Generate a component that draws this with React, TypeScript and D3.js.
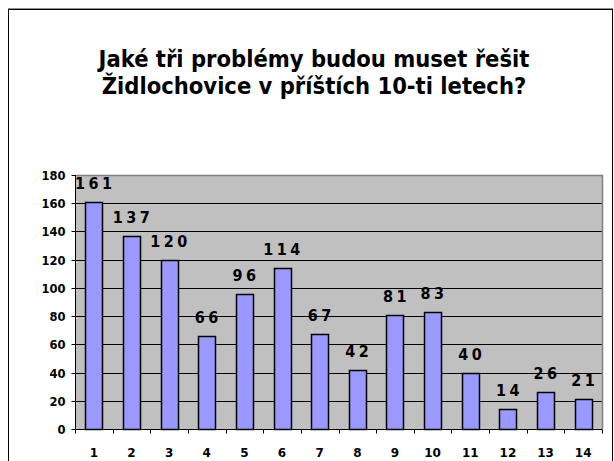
import { useEffect, useRef } from "react";
import * as d3 from "d3";

const W = 614, H = 461;
const M = { top: 175, right: 12, bottom: 32, left: 75 };
const X1 = W - M.right; // 602
const Y0 = H - M.bottom; // 429

const TITLE = ["Jaké tři problémy budou muset řešit", "Židlochovice v příštích 10-ti letech?"];
const CATEGORIES = ["1", "2", "3", "4", "5", "6", "7", "8", "9", "10", "11", "12", "13", "14"];
const VALUES = [161, 137, 120, 66, 96, 114, 67, 42, 81, 83, 40, 14, 26, 21];
const Y_TICKS = [0, 20, 40, 60, 80, 100, 120, 140, 160, 180];

const C = { plotBg: "#c0c0c0", bar: "#9999ff", grid: "#000", border: "#808080" };
const FONT = "'DejaVu Sans', Verdana, sans-serif";

export default function App() {
  const ref = useRef<SVGSVGElement>(null);

  useEffect(() => {
    const svg = d3.select(ref.current);
    svg.selectAll("*").remove();

    // outer frame
    svg.append("rect").attr("x", 8.5).attr("y", 8.5).attr("width", 604).attr("height", 470)
      .attr("fill", "none").attr("stroke", "#909090");
    svg.append("rect").attr("x", 8.5).attr("y", 9.5).attr("width", 604).attr("height", 470)
      .attr("fill", "#fff").attr("stroke", "#000");

    // title
    const t = svg.append("text").attr("text-anchor", "middle")
      .attr("font-family", FONT).attr("font-weight", "bold")
      .style("font-stretch", "condensed").style("font-size", "23.5px").attr("fill", "#000");
    TITLE.forEach((line, i) => {
      t.append("tspan").attr("x", 314).attr("y", 67 + i * 27).text(line);
    });

    const x = d3.scaleBand<string>().domain(CATEGORIES).range([M.left, X1])
      .paddingInner(0.55).paddingOuter(0.275);
    const y = d3.scaleLinear().domain([0, 180]).range([Y0, M.top]);
    const px = (v: number) => Math.round(v) + 0.5;

    // plot area
    svg.append("rect").attr("x", M.left).attr("y", M.top).attr("width", X1 - M.left).attr("height", Y0 - M.top)
      .attr("fill", C.plotBg);

    // gridlines
    svg.append("g").selectAll("line").data(Y_TICKS.filter(d => d > 0 && d < 180)).join("line")
      .attr("x1", M.left).attr("x2", X1)
      .attr("y1", d => px(y(d))).attr("y2", d => px(y(d)))
      .attr("stroke", C.grid).attr("stroke-width", 1);

    // plot border top/right
    svg.append("path")
      .attr("d", `M${M.left},${px(M.top)}H${px(X1)}V${Y0}`)
      .attr("fill", "none").attr("stroke", C.border).attr("stroke-width", 1.5);

    // bars
    svg.append("g").selectAll("rect").data(VALUES).join("rect")
      .attr("x", (_, i) => px(x(CATEGORIES[i])!))
      .attr("y", d => px(y(d)))
      .attr("width", Math.round(x.bandwidth()))
      .attr("height", d => px(Y0) - px(y(d)))
      .attr("fill", C.bar).attr("stroke", "#000").attr("stroke-width", 1.5);

    // value labels
    svg.append("g").selectAll("text").data(VALUES).join("text")
      .attr("x", (_, i) => x(CATEGORIES[i])! + x.bandwidth() / 2 + 1.5)
      .attr("y", d => y(d) - 13)
      .attr("text-anchor", "middle")
      .attr("font-family", FONT).attr("font-weight", "bold")
      .style("font-stretch", "condensed").style("font-size", "16px")
      .attr("letter-spacing", 3.5).attr("fill", "#000")
      .text(d => String(d));

    // y axis
    const yAxis = svg.append("g").attr("transform", `translate(${px(M.left)},0)`)
      .call(d3.axisLeft(y).tickValues(Y_TICKS).tickSize(4).tickPadding(6).tickFormat(d => String(d)));
    yAxis.select(".domain").attr("stroke", "#000").attr("d", `M0,${M.top}V${px(Y0)}`);
    yAxis.selectAll(".tick").attr("transform", (d: any) => `translate(0,${px(y(d))})`);
    yAxis.selectAll(".tick line").attr("stroke", "#000");
    yAxis.selectAll(".tick text").attr("font-family", FONT)
      .attr("font-weight", "bold").style("font-size", "11.5px").attr("fill", "#000").attr("dy", "0.35em");

    // x axis
    const xg = svg.append("g");
    xg.append("line").attr("x1", M.left).attr("x2", px(X1)).attr("y1", px(Y0)).attr("y2", px(Y0))
      .attr("stroke", "#000");
    const bounds = d3.range(CATEGORIES.length + 1).map(i => M.left + i * x.step());
    xg.selectAll("line.tk").data(bounds).join("line").attr("class", "tk")
      .attr("x1", d => px(d)).attr("x2", d => px(d)).attr("y1", px(Y0)).attr("y2", px(Y0) + 4)
      .attr("stroke", "#000");
    xg.selectAll("text").data(CATEGORIES).join("text")
      .attr("x", d => x(d)! + x.bandwidth() / 2).attr("y", 457)
      .attr("text-anchor", "middle")
      .attr("font-family", FONT).attr("font-weight", "bold")
      .style("font-size", "12px").attr("fill", "#000")
      .text(d => d);
  }, []);

  return (
    <div style={{ position: "absolute", left: 0, top: 0, width: W, height: H, background: "#fff" }}>
      <svg ref={ref} width={W} height={H} style={{ display: "block" }} />
    </div>
  );
}
